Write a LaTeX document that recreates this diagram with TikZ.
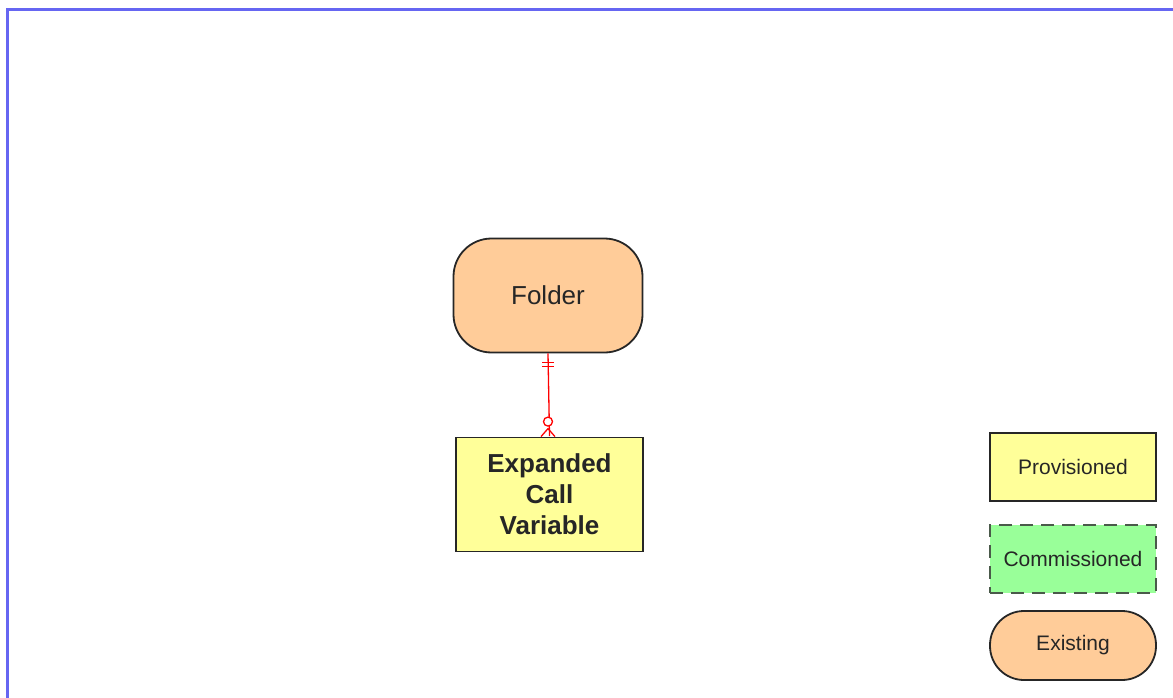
\documentclass[tikz,border=0pt]{standalone}
\usepackage{fontspec}
\setmainfont{Liberation Sans}
\usetikzlibrary{calc}
\definecolor{peach}{HTML}{FFCC99}
\definecolor{pyellow}{HTML}{FFFF99}
\definecolor{pgreen}{HTML}{99FF99}
\definecolor{frameblue}{HTML}{6666F2}
\definecolor{dashgrey}{HTML}{4A5A4A}
\definecolor{txt}{HTML}{262626}
\tikzset{
  existbox/.style={draw=black!85, line width=1.8pt, fill=peach, rounded corners=38pt, text=txt, font=\fontsize{26}{31}\selectfont},
  provbox/.style={draw=black!85, line width=1.8pt, fill=pyellow, text=txt, align=center},
  commbox/.style={draw=dashgrey, line width=2.5pt, dash pattern=on 13pt off 8pt, fill=pgreen, text=txt},
  legfont/.style={font=\fontsize{21}{25}\selectfont},
  rel/.style={red, line width=1.3pt}
}
\begin{document}
\begin{tikzpicture}[x=1pt,y=-1pt]
\useasboundingbox (0,0) rectangle (1173,698);
% frame
\draw[frameblue, line width=3pt] (7,700) -- (7,10) -- (1175,10);
% main nodes
\node[existbox, minimum width=189pt, minimum height=114pt] (folder) at (548,295.5) {Folder};
\node[provbox, minimum width=187pt, minimum height=114pt, font=\bfseries\fontsize{26}{31}\selectfont] (ecv) at (549.5,494.5) {Expanded\\Call\\Variable};
% connector
\draw[rel] (folder.south) -- ($(ecv.north)+(0,-0.5)$);
\coordinate (t1) at ($(folder.south)+(0,9)$);
\coordinate (t2) at ($(folder.south)+(0,13)$);
\draw[rel] ($(t1)+(-6,0)$) -- ($(t1)+(6,0)$);
\draw[rel] ($(t2)+(-6,0)$) -- ($(t2)+(6,0)$);
\coordinate (circ) at ($(ecv.north)+(-1.5,-15)$);
\draw[rel, fill=white] (circ) circle (4.5pt);
\coordinate (foot) at ($(ecv.north)+(-1.5,-8)$);
\draw[rel] (foot) -- ($(ecv.north)+(-8.5,0)$);
\draw[rel] (foot) -- ($(ecv.north)+(5.5,0)$);
% legend
\node[provbox, legfont, minimum width=166pt, minimum height=68pt] (prov) at (1073,467) {Provisioned};
\node[commbox, legfont, minimum width=166pt, minimum height=68pt] (comm) at (1073,559) {Commissioned};
\node[existbox, legfont, rounded corners=34pt, minimum width=166pt, minimum height=69pt] (exist) at (1073,645.5) {Existing};
\end{tikzpicture}
\end{document}
